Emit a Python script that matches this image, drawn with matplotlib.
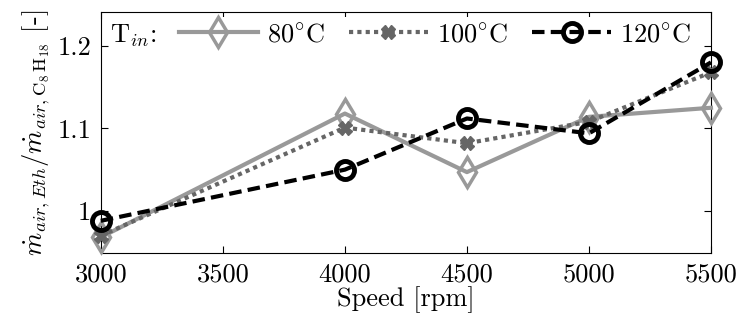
import matplotlib
matplotlib.use("Agg")
import matplotlib.pyplot as plt

plt.rcParams['font.family'] = ['cmr10', 'DejaVu Serif']
plt.rcParams['mathtext.fontset'] = 'cm'
plt.rcParams['axes.formatter.use_mathtext'] = True

speed = [3000, 4000, 4500, 5000, 5500]
t80 = [0.968, 1.118, 1.047, 1.114, 1.125]
t100 = [0.970, 1.101, 1.082, 1.108, 1.168]
t120 = [0.988, 1.050, 1.112, 1.094, 1.180]
labels = [r'$80^{\circ}\mathrm{C}$', r'$100^{\circ}\mathrm{C}$', r'$120^{\circ}\mathrm{C}$']
xticks = [3000, 3500, 4000, 4500, 5000, 5500]
yticks = [1.0, 1.1, 1.2]
yticklabels = ['1', '1.1', '1.2']

FS = 19

fig = plt.figure(figsize=(7.36, 3.26), dpi=100)
ax = fig.add_axes([0.137, 0.224, 0.829, 0.739])

ax.plot(speed, t80, color='0.6', lw=3, marker='d', ms=15, mfc='none', mec='0.6', mew=2.5,
        label=labels[0], clip_on=False, zorder=3)
ax.plot(speed, t100, color='0.4', lw=3, ls=(0, (1, 1)), marker='X', ms=10, mfc='0.4', mec='0.4',
        label=labels[1], clip_on=False, zorder=4)
ax.plot(speed, t120, color='black', lw=3, ls=(0, (3, 1.5)), marker='o', ms=13, mfc='none', mec='black', mew=3.5,
        label=labels[2], clip_on=False, zorder=5)

ax.set_xlim(3000, 5500)
ax.set_ylim(0.949, 1.241)
ax.set_xticks(xticks)
ax.set_xticklabels([str(v) for v in xticks])
ax.set_yticks(yticks)
ax.set_yticklabels(yticklabels)
ax.tick_params(direction='in', labelsize=FS, length=5, top=True, right=True, pad=7)
ax.set_xlabel('Speed [rpm]', fontsize=FS, labelpad=0)
ax.set_ylabel(r'$\dot{m}_{air,Eth}/\dot{m}_{air,\mathrm{C_8\,H_{18}}}$ [-]', fontsize=FS, labelpad=4)

leg = ax.legend(loc='upper left', bbox_to_anchor=(0.11, 1.0), ncol=3, fontsize=FS,
                handlelength=3.0, handletextpad=0.35, columnspacing=0.9, frameon=True,
                borderaxespad=0.2, borderpad=0.2, fancybox=False)
leg.get_frame().set_edgecolor('none')
leg.get_frame().set_facecolor('white')
leg.get_frame().set_alpha(1)
ax.text(0.015, 0.9, r'T$_{in}$:', transform=ax.transAxes, fontsize=FS, va='center', ha='left')

fig.savefig('out.png', dpi=100)
